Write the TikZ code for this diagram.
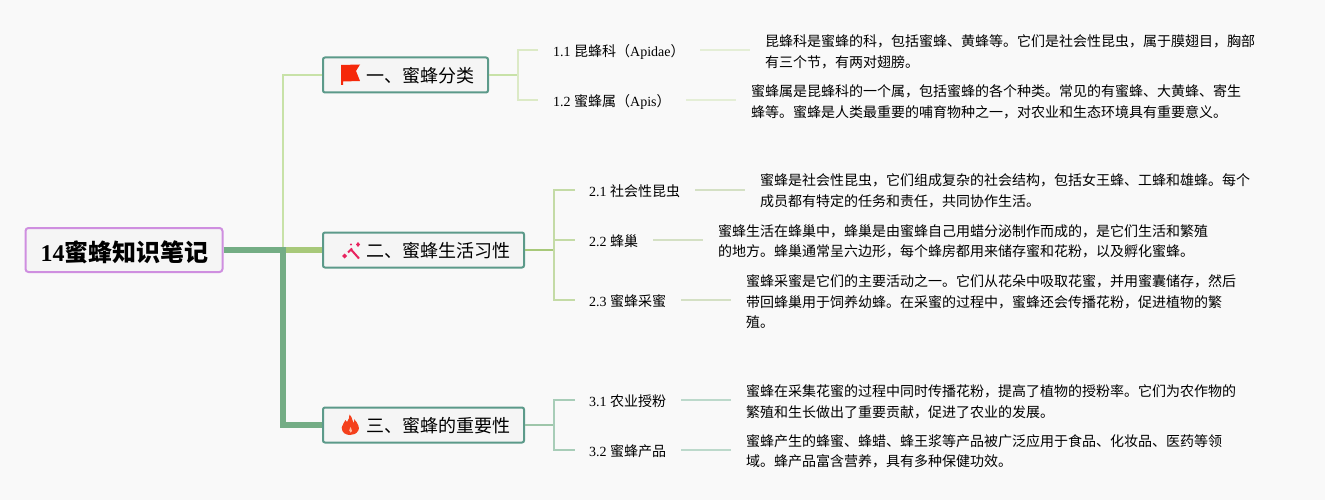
\documentclass[tikz,border=0pt]{standalone}
\usepackage{fontspec}
\setmainfont{Liberation Serif}
\newfontfamily\cjk{Noto Sans CJK SC}
\newcommand{\lat}[1]{{\rmfamily #1}}
\newcommand{\subtext}[3]{\hspace*{#1}\raisebox{-6.5pt}[0pt][0pt]{\lat{#2}\hspace{3.5pt}#3}}
\newcommand{\sectext}[1]{\hspace*{43pt}\raisebox{-7.5pt}[0pt][0pt]{#1}}
\definecolor{bgc}{HTML}{F9F9F9}
\definecolor{boxfill}{HTML}{F5F5F5}
\definecolor{rootline}{HTML}{CF8FE0}
\definecolor{secline}{HTML}{5C9A8A}
\definecolor{brA}{HTML}{C8E2A8}
\definecolor{brB}{HTML}{A8C97A}
\definecolor{brC}{HTML}{74AD85}
\definecolor{subA}{HTML}{DCEAC6}
\definecolor{subB}{HTML}{C4DBA6}
\definecolor{subC}{HTML}{A8CDB8}
\definecolor{leafA}{HTML}{E4EED6}
\definecolor{leafB}{HTML}{D4E0C4}
\definecolor{leafC}{HTML}{BCD9CB}
\definecolor{wand}{HTML}{E8245F}
\definecolor{flame}{HTML}{F4401C}
\definecolor{flamein}{HTML}{FFB9A0}
\definecolor{flagred}{HTML}{F5280A}
\tikzset{
 rootbox/.style={draw=rootline,line width=2pt,fill=boxfill,rounded corners=3pt,minimum width=197pt,minimum height=44pt,inner sep=0pt,font=\cjk\fontsize{24}{28}\selectfont\bfseries},
 secbox/.style={draw=secline,line width=2pt,fill=boxfill,rounded corners=2pt,minimum height=35pt,inner sep=0pt,anchor=west,font=\cjk\fontsize{18}{22}\selectfont},
 subbox/.style={anchor=west,inner xsep=0pt,inner ysep=2pt,text width=#1,align=left,font=\cjk\fontsize{14}{18}\selectfont},
 leafbox/.style={anchor=west,inner xsep=15pt,inner ysep=0pt,text width=510pt,align=left,font=\cjk\fontsize{14}{20.5}\selectfont},
 conn/.style={line join=miter,rounded corners=0pt},
 leafline/.style={line width=1.8pt}
}
\begin{document}
\begin{tikzpicture}[x=1pt,y=-1pt]
\useasboundingbox (0,0) rectangle (1325,500);
\fill[bgc] (0,0) rectangle (1325,500);
% junctions
\coordinate (hub) at (283,250);
\coordinate (upcorner) at (283,75);
\coordinate (downcorner) at (283,425);
\coordinate (jA) at (518,75);
\coordinate (jB) at (554,250);
\coordinate (jBm) at (554,240);
\coordinate (jC) at (554,425);
% boxes
\node[rootbox] (root) at (124,250) {\raisebox{-11pt}[0pt][0pt]{\hspace*{1pt}\lat{14}蜜蜂知识笔记}};
\node[secbox] (secA) at (322,75) {\makebox[165pt][l]{\sectext{一、蜜蜂分类}}};
\node[secbox] (secB) at (322,250) {\makebox[201pt][l]{\sectext{二、蜜蜂生活习性}}};
\node[secbox] (secC) at (322,425) {\makebox[201pt][l]{\sectext{三、蜜蜂的重要性}}};
\node[subbox=162pt] (s11) at (538,50) {\subtext{15pt}{1.1}{昆蜂科（\lat{Apidae}）}};
\node[subbox=148pt] (s12) at (538,100) {\subtext{15pt}{1.2}{蜜蜂属（\lat{Apis}）}};
\node[subbox=120pt] (s21) at (575,190) {\subtext{14pt}{2.1}{社会性昆虫}};
\node[subbox=78pt] (s22) at (575,240) {\subtext{14pt}{2.2}{蜂巢}};
\node[subbox=106pt] (s23) at (575,300) {\subtext{14pt}{2.3}{蜜蜂采蜜}};
\node[subbox=106pt] (s31) at (575,400) {\subtext{14pt}{3.1}{农业授粉}};
\node[subbox=106pt] (s32) at (575,450) {\subtext{14pt}{3.2}{蜜蜂产品}};
\node[leafbox] (l11) at (750,51.7) {昆蜂科是蜜蜂的科，包括蜜蜂、黄蜂等。它们是社会性昆虫，属于膜翅目，胸部\\有三个节，有两对翅膀。};
\node[leafbox] (l12) at (736,101.7) {蜜蜂属是昆蜂科的一个属，包括蜜蜂的各个种类。常见的有蜜蜂、大黄蜂、寄生\\蜂等。蜜蜂是人类最重要的哺育物种之一，对农业和生态环境具有重要意义。};
\node[leafbox] (l21) at (745,190.7) {蜜蜂是社会性昆虫，它们组成复杂的社会结构，包括女王蜂、工蜂和雄蜂。每个\\成员都有特定的任务和责任，共同协作生活。};
\node[leafbox] (l22) at (703,241.2) {蜜蜂生活在蜂巢中，蜂巢是由蜜蜂自己用蜡分泌制作而成的，是它们生活和繁殖\\的地方。蜂巢通常呈六边形，每个蜂房都用来储存蜜和花粉，以及孵化蜜蜂。};
\node[leafbox] (l23) at (731,301.7) {蜜蜂采蜜是它们的主要活动之一。它们从花朵中吸取花蜜，并用蜜囊储存，然后\\带回蜂巢用于饲养幼蜂。在采蜜的过程中，蜜蜂还会传播花粉，促进植物的繁\\殖。};
\node[leafbox] (l31) at (731,401.7) {蜜蜂在采集花蜜的过程中同时传播花粉，提高了植物的授粉率。它们为农作物的\\繁殖和生长做出了重要贡献，促进了农业的发展。};
\node[leafbox] (l32) at (731,451.2) {蜜蜂产生的蜂蜜、蜂蜡、蜂王浆等产品被广泛应用于食品、化妆品、医药等领\\域。蜂产品富含营养，具有多种保健功效。};
% main branches
\draw[brA,line width=2.2pt,conn] (hub) -- (upcorner) -- (secA.west);
\draw[brB,line width=5.5pt,conn] (hub) -- (secB.west);
\draw[brC,line width=5.5pt,conn] (root.east) -- (hub) -- (downcorner) -- (secC.west);
% sub branches
\draw[brA,line width=1.5pt] (secA.east) -- (jA);
\draw[subA,line width=1.5pt] (s11.west) -- (518,50) -- (jA) -- (518,100) -- (s12.west);
\draw[brB,line width=1.5pt] (secB.east) -- (jB);
\draw[subB,line width=1.5pt] (s21.west) -- (554,190) -- (554,300) -- (s23.west);
\draw[subB,line width=1.5pt] (jBm) -- (s22.west);
\draw[brC!70!white,line width=1.5pt] (secC.east) -- (jC);
\draw[subC,line width=1.5pt] (s31.west) -- (554,400) -- (554,450) -- (s32.west);
% leaf connectors
\draw[leafA,leafline] (s11.east) -- (s11.east -| l11.west);
\draw[leafA,leafline] (s12.east) -- (s12.east -| l12.west);
\draw[leafB,leafline] (s21.east) -- (s21.east -| l21.west);
\draw[leafB,leafline] (s22.east) -- (s22.east -| l22.west);
\draw[leafB,leafline] (s23.east) -- (s23.east -| l23.west);
\draw[leafC,leafline] (s31.east) -- (s31.east -| l31.west);
\draw[leafC,leafline] (s32.east) -- (s32.east -| l32.west);
% flag icon
\fill[flagred] (341,65) -- (360,64.5) -- (356,71) -- (360,81) -- (343,81.5) -- (343,85) -- (341,85) -- cycle;
% sparkle wand icon
\draw[wand,line width=2pt] (351,249.5) -- (359,258.5);
\draw[wand,line width=2pt] (348,252.5) -- (352,248.5);
\fill[wand] (344.5,253.5) -- (347,256) -- (344.5,258.5) -- (342,256) -- cycle;
\fill[wand] (358,242) -- (360,244.5) -- (358,247) -- (356,244.5) -- cycle;
\fill[wand] (351,244.5) circle (1.1pt);
% fire icon
\fill[flame] (349.5,414.5) .. controls (353,418) and (352,421) .. (353.5,423) .. controls (355,421) and (354,420) .. (354,419)
 .. controls (358,423) and (360,428) .. (358.3,430.5) .. controls (356.5,434) and (353,435) .. (350,435)
 .. controls (346,435) and (341.7,433) .. (341.7,427.5) .. controls (341.7,424) and (345,423) .. (345.5,420)
 .. controls (346,421) and (347,422) .. (347,422) .. controls (348.5,420) and (349.8,417) .. (349.5,414.5) -- cycle;
\fill[flamein] (350.5,432.5) .. controls (348.5,432) and (349,429) .. (350.5,427) .. controls (350.5,429) and (352.5,429.5) .. (352,431) .. controls (351.8,432) and (351.2,432.5) .. (350.5,432.5) -- cycle;
\end{tikzpicture}
\end{document}
